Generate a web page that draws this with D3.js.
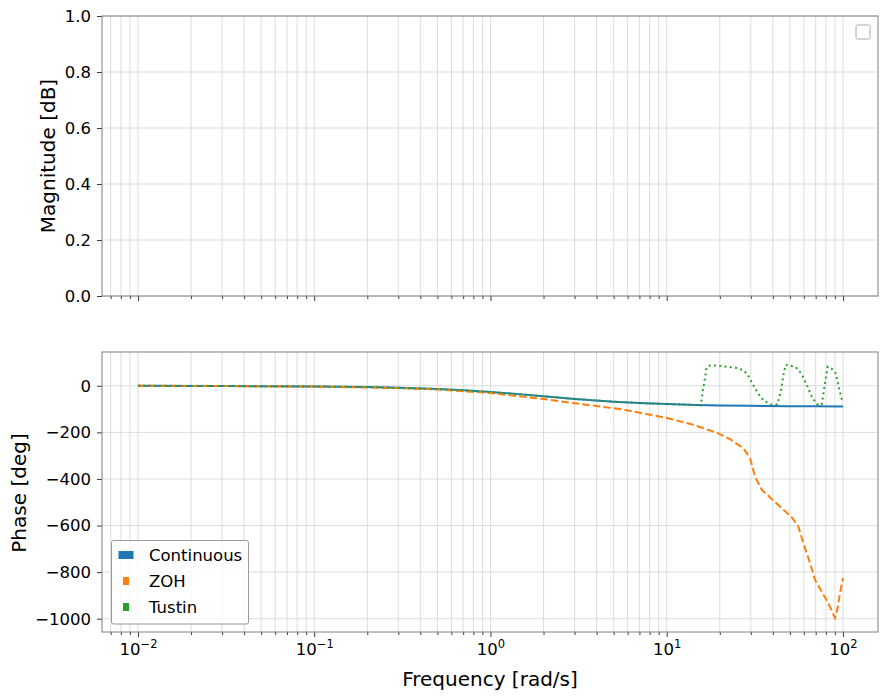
<!DOCTYPE html>
<html>
<head>
<meta charset="utf-8">
<script src="https://cdn.jsdelivr.net/npm/d3@7"></script>
<style>
  body { margin: 0; background: #fff; }
  text { font-family: "DejaVu Sans", sans-serif; fill: #000; }
</style>
</head>
<body>
<div id="chart"></div>
<script>
// frequencies [rad/s] and phase [deg]
var contFreq = [0.01, 0.03, 0.1, 0.2, 0.3, 0.5, 0.7, 1, 1.5, 2, 3, 5, 7, 10, 15, 20, 30, 50, 70, 100];
var contPhase = [-0.3, -0.9, -2.9, -5.7, -8.5, -14, -19.3, -26.6, -36.9, -45, -56.3, -68.2, -74, -78.7, -82.4, -84.3, -86.2, -87.7, -88.4, -88.9];

var zohFreq = [0.01, 0.03, 0.1, 0.3, 0.5, 1, 2, 3, 4.18, 5.43, 6.43, 10, 14.1, 19.3, 22.85, 27.19, 29.67, 31.68,
  34.57, 39.4, 45.84, 51.15, 55.78, 59.55, 65, 69.37, 75.7, 82.52, 90.07, 92.84, 96.17, 100];
var zohPhase = [0, -1, -3.5, -10, -16, -31, -57, -75, -89, -100, -110, -138, -167, -202, -229, -268, -310, -389,
  -446, -486, -532, -564, -604, -675, -761, -833, -883, -933, -997, -961, -890, -825];

var tustinFreq = [0.01, 0.03, 0.1, 0.2, 0.3, 0.5, 0.7, 1, 1.5, 2, 3, 5, 7, 10, 13.55, 15.58, 15.79, 16.12, 16.48, 16.85,
  17.6, 19.2, 21.88, 24.95, 27.19, 28.64, 30.34, 31.68, 33.82, 36.09, 39.4, 42.4, 43.51, 44.89, 45.84, 47.3,
  50.04, 54.12, 58.3, 62.23, 66.45, 70.91, 75.7, 77.3, 79.35, 81.88, 86.27, 90.89, 94.91, 98.33, 100];
var tustinPhase = [-0.3, -0.9, -2.9, -5.7, -8.5, -14, -19.3, -26.6, -36.9, -45, -56.3, -68.2, -74, -79, -82, -84, -56, -9, 34, 79,
  87, 87, 82, 76, 67, 50, 16, -10, -46, -67, -82, -80, -50, -3, 44, 90,
  87, 79, 50, 4, -46, -79, -82, -36, 18, 82, 73, 54, -10, -57, -65];

var seriesNames = ["Continuous", "ZOH", "Tustin"];
var seriesColors = ["#1f77b4", "#ff7f0e", "#2ca02c"];

var majorX = [0.01, 0.1, 1, 10, 100];
var magTicks = [0, 0.2, 0.4, 0.6, 0.8, 1.0];
var phaseTicks = [-1000, -800, -600, -400, -200, 0];

var svgWidth = 887, svgHeight = 698;
var left = 102, right = 878;

var svg = d3.select("#chart").append("svg")
  .attr("width", svgWidth)
  .attr("height", svgHeight);

var x = d3.scaleLog().domain([0.00625, 158]).range([left, right]);

// minor ticks 2..9 x 10^k inside the domain
var minorX = [];
for (var k = -3; k <= 2; k++) {
  for (var m = 2; m <= 9; m++) {
    var v = m * Math.pow(10, k);
    if (v > x.domain()[0] && v < x.domain()[1]) minorX.push(v);
  }
}

function panel(top, bottom, y, yTicks, yFmt, showXLabels) {
  var g = svg.append("g");

  // grid
  g.selectAll(".vgrid").data(majorX.concat(minorX)).enter().append("line")
    .attr("x1", d => x(d)).attr("x2", d => x(d))
    .attr("y1", top).attr("y2", bottom)
    .attr("stroke", "#d8d8d8").attr("stroke-width", 0.9);
  g.selectAll(".hgrid").data(yTicks).enter().append("line")
    .attr("x1", left).attr("x2", right)
    .attr("y1", d => y(d)).attr("y2", d => y(d))
    .attr("stroke", "#d8d8d8").attr("stroke-width", 0.9);

  // x axis
  var xAxis = g.append("g")
    .attr("transform", `translate(0, ${bottom})`)
    .call(d3.axisBottom(x).tickValues(majorX).tickSize(5).tickPadding(6).tickFormat(""));
  g.append("g")
    .attr("transform", `translate(0, ${bottom})`)
    .call(d3.axisBottom(x).tickValues(minorX).tickSize(3).tickFormat(""));

  if (showXLabels) {
    xAxis.selectAll(".tick text").each(function(d) {
      var t = d3.select(this).text("");
      t.append("tspan").text("10");
      t.append("tspan").attr("dy", "-0.55em").style("font-size", "11.5px")
        .text(String(Math.round(Math.log10(d))).replace("-", "\u2212"));
    });
  }

  // y axis
  g.append("g")
    .attr("transform", `translate(${left}, 0)`)
    .call(d3.axisLeft(y).tickValues(yTicks).tickSize(5).tickPadding(6).tickFormat(yFmt));

  g.selectAll(".domain").remove();
  g.selectAll(".tick line").attr("stroke", "#222").attr("stroke-width", 0.9);
  g.selectAll(".tick text").style("font-size", "16.5px").style("font-family", "DejaVu Sans");

  // frame
  g.append("rect")
    .attr("x", left).attr("y", top)
    .attr("width", right - left).attr("height", bottom - top)
    .attr("fill", "none").attr("stroke", "#808080").attr("stroke-width", 1);
  return g;
}

// Magnitude panel
var yMag = d3.scaleLinear().domain([0, 1]).range([296, 16]);
panel(16, 296, yMag, magTicks, d3.format(".1f"), false);

svg.append("text")
  .attr("transform", "translate(55, 156) rotate(-90)")
  .attr("text-anchor", "middle")
  .style("font-size", "20px")
  .text("Magnitude [dB]");

// empty legend box on the top panel
svg.append("rect")
  .attr("x", 856).attr("y", 25).attr("width", 14).attr("height", 14).attr("rx", 1.5)
  .attr("fill", "#fff").attr("stroke", "#aaa").attr("stroke-width", 1);

// Phase panel
var yPh = d3.scaleLinear().domain([-1057, 145]).range([632, 352]);
panel(352, 632, yPh, phaseTicks, d => d3.format("d")(d).replace("-", "\u2212"), true);

var line = d3.line()
  .x(d => x(d[0]))
  .y(d => yPh(d[1]));

var series = [
  { f: contFreq, p: contPhase, dash: null },
  { f: zohFreq, p: zohPhase, dash: "7.4,3.2" },
  { f: tustinFreq, p: tustinPhase, dash: "2,3.3" }
];

svg.append("clipPath").attr("id", "phclip")
  .append("rect").attr("x", left).attr("y", 352).attr("width", right - left).attr("height", 280);

series.forEach(function(s, i) {
  svg.append("path")
    .datum(d3.zip(s.f, s.p))
    .attr("clip-path", "url(#phclip)")
    .attr("fill", "none")
    .attr("stroke", seriesColors[i])
    .attr("stroke-width", 2)
    .attr("stroke-dasharray", s.dash)
    .attr("d", line);
});

svg.append("text")
  .attr("transform", "translate(25.5, 493) rotate(-90)")
  .attr("text-anchor", "middle")
  .style("font-size", "20px")
  .text("Phase [deg]");

svg.append("text")
  .attr("x", 490).attr("y", 686)
  .attr("text-anchor", "middle")
  .style("font-size", "20px")
  .text("Frequency [rad/s]");

// legend on the phase panel
var legend = svg.append("g");
legend.append("rect")
  .attr("x", 111.5).attr("y", 540.5).attr("width", 137).attr("height", 83.5).attr("rx", 2)
  .attr("fill", "#fff").attr("fill-opacity", 0.8)
  .attr("stroke", "#999").attr("stroke-width", 1);

var handleW = [15, 6, 6];
seriesNames.forEach(function(name, i) {
  var cy = 555 + i * 26;
  legend.append("rect")
    .attr("x", 126 - handleW[i] / 2).attr("y", cy - 4)
    .attr("width", handleW[i]).attr("height", 8)
    .attr("fill", seriesColors[i]);
  legend.append("text")
    .attr("x", 149).attr("y", cy + 6)
    .style("font-size", "16.5px")
    .text(name);
});
</script>
</body>
</html>
